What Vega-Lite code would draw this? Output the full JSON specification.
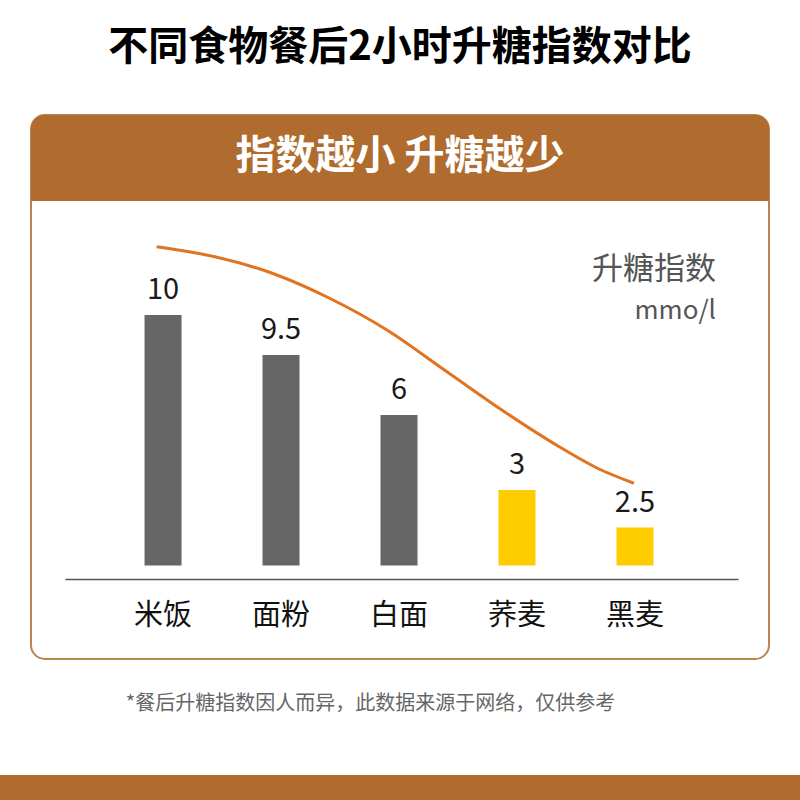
{
  "$schema": "https://vega.github.io/schema/vega-lite/v6.json",
  "width": 738,
  "height": 544,
  "autosize": {"type": "none"},
  "padding": {"left": 31, "top": 115, "right": 31, "bottom": 141},
  "background": "white",
  "title": {
    "text": "不同食物餐后2小时升糖指数对比",
    "fontSize": 40,
    "fontWeight": "bold",
    "font": "Noto Sans CJK SC",
    "color": "#000000",
    "anchor": "middle",
    "frame": "group",
    "baseline": "middle",
    "offset": 27
  },
  "config": {
    "view": {"stroke": "#B8844F", "strokeWidth": 2, "cornerRadius": 14},
    "font": "Noto Sans CJK SC"
  },
  "datasets": {
    "foods": [
      {"food": "米饭", "value": "10", "bar": 10.02, "kind": "精制"},
      {"food": "面粉", "value": "9.5", "bar": 8.42, "kind": "精制"},
      {"food": "白面", "value": "6", "bar": 6.02, "kind": "精制"},
      {"food": "荞麦", "value": "3", "bar": 3.02, "kind": "粗粮"},
      {"food": "黑麦", "value": "2.5", "bar": 1.52, "kind": "粗粮"}
    ],
    "curve": [
      {"pos": -0.054, "level": 12.75},
      {"pos": 0.439, "level": 12.35},
      {"pos": 0.925, "level": 11.69},
      {"pos": 1.412, "level": 10.69},
      {"pos": 1.898, "level": 9.42},
      {"pos": 2.385, "level": 7.82},
      {"pos": 2.871, "level": 6.22},
      {"pos": 3.358, "level": 4.75},
      {"pos": 3.682, "level": 3.89},
      {"pos": 3.991, "level": 3.29}
    ],
    "header": [{"text": "指数越小 升糖越少", "top": 18.02, "bottom": 14.58, "mid": 16.34}],
    "band": [{"top": -8.38, "bottom": -9.4}],
    "unit": [
      {"text": "升糖指数", "level": 11.82, "size": "big"},
      {"text": "mmo/l", "level": 10.2, "size": "small"}
    ]
  },
  "resolve": {"scale": {"x": "independent"}},
  "layer": [
    {
      "data": {"name": "header"},
      "mark": {"type": "rect", "color": "#B06C2E", "cornerRadiusTopLeft": 14, "cornerRadiusTopRight": 14},
      "encoding": {
        "x": {"value": 0},
        "x2": {"value": "width"},
        "y": {"field": "bottom", "type": "quantitative", "scale": {"domain": [-3.74, 18.02], "nice": false, "zero": false}, "axis": null},
        "y2": {"field": "top"}
      }
    },
    {
      "data": {"name": "header"},
      "mark": {"type": "text", "x": {"expr": "width / 2"}, "color": "#FFFFFF", "fontSize": 40, "fontWeight": "bold", "font": "Noto Sans CJK SC", "align": "center", "baseline": "middle"},
      "encoding": {
        "y": {"field": "mid", "type": "quantitative", "scale": {"domain": [-3.74, 18.02], "nice": false, "zero": false}, "axis": null},
        "text": {"field": "text"}
      }
    },
    {
      "data": {"name": "band"},
      "mark": {"type": "rect", "color": "#B06C2E", "clip": false},
      "encoding": {
        "x": {"value": -31},
        "x2": {"value": 769},
        "y": {"field": "top", "type": "quantitative", "scale": {"domain": [-3.74, 18.02], "nice": false, "zero": false}, "axis": null},
        "y2": {"field": "bottom"}
      }
    },
    {
      "data": {"name": "foods"},
      "mark": {"type": "bar", "width": 37},
      "encoding": {
        "x": {
          "field": "food",
          "type": "nominal",
          "sort": null,
          "scale": {"type": "band", "range": [34, 707], "paddingInner": 0, "paddingOuter": 0.352, "align": 0.47},
          "axis": {
            "title": "*餐后升糖指数因人而异，此数据来源于网络，仅供参考",
            "offset": -80,
            "domainColor": "#555555",
            "domainWidth": 1.5,
            "ticks": false,
            "tickSize": 0,
            "labelPadding": 22,
            "labelFontSize": 29,
            "labelColor": "#111111",
            "labelFont": "Noto Sans CJK SC",
            "labelAngle": 0,
            "titleFont": "Noto Sans CJK SC",
            "titleFontSize": 20,
            "titleFontWeight": "normal",
            "titleColor": "#666666",
            "titleX": 339,
            "titleY": 124,
            "titleAlign": "center",
            "titleBaseline": "middle"
          }
        },
        "y": {"field": "bar", "type": "quantitative", "scale": {"domain": [-3.74, 18.02], "nice": false, "zero": false}, "axis": null},
        "y2": {"datum": 0},
        "color": {"field": "kind", "type": "nominal", "scale": {"domain": ["精制", "粗粮"], "range": ["#666666", "#FFCC00"]}, "legend": null}
      }
    },
    {
      "data": {"name": "foods"},
      "mark": {"type": "text", "fontSize": 29, "color": "#1A1A1A", "baseline": "alphabetic", "dy": -16, "font": "Noto Sans CJK SC"},
      "encoding": {
        "x": {"field": "food", "type": "nominal", "sort": null, "scale": {"type": "band", "range": [34, 707], "paddingInner": 0, "paddingOuter": 0.352, "align": 0.47}, "axis": null},
        "y": {"field": "bar", "type": "quantitative", "scale": {"domain": [-3.74, 18.02], "nice": false, "zero": false}, "axis": null},
        "text": {"field": "value"}
      }
    },
    {
      "data": {"name": "curve"},
      "mark": {"type": "line", "color": "#E2731F", "strokeWidth": 3, "interpolate": "monotone"},
      "encoding": {
        "x": {"field": "pos", "type": "quantitative", "scale": {"domain": [-1.1186, 5.1356], "nice": false, "zero": false}, "axis": null},
        "y": {"field": "level", "type": "quantitative", "scale": {"domain": [-3.74, 18.02], "nice": false, "zero": false}, "axis": null}
      }
    },
    {
      "data": {"name": "unit"},
      "mark": {"type": "text", "x": {"expr": "width - 53"}, "align": "right", "baseline": "middle", "color": "#555555", "font": "Noto Sans CJK SC"},
      "encoding": {
        "y": {"field": "level", "type": "quantitative", "scale": {"domain": [-3.74, 18.02], "nice": false, "zero": false}, "axis": null},
        "text": {"field": "text"},
        "size": {"field": "size", "type": "nominal", "scale": {"domain": ["big", "small"], "range": [31, 26]}, "legend": null}
      }
    }
  ]
}
